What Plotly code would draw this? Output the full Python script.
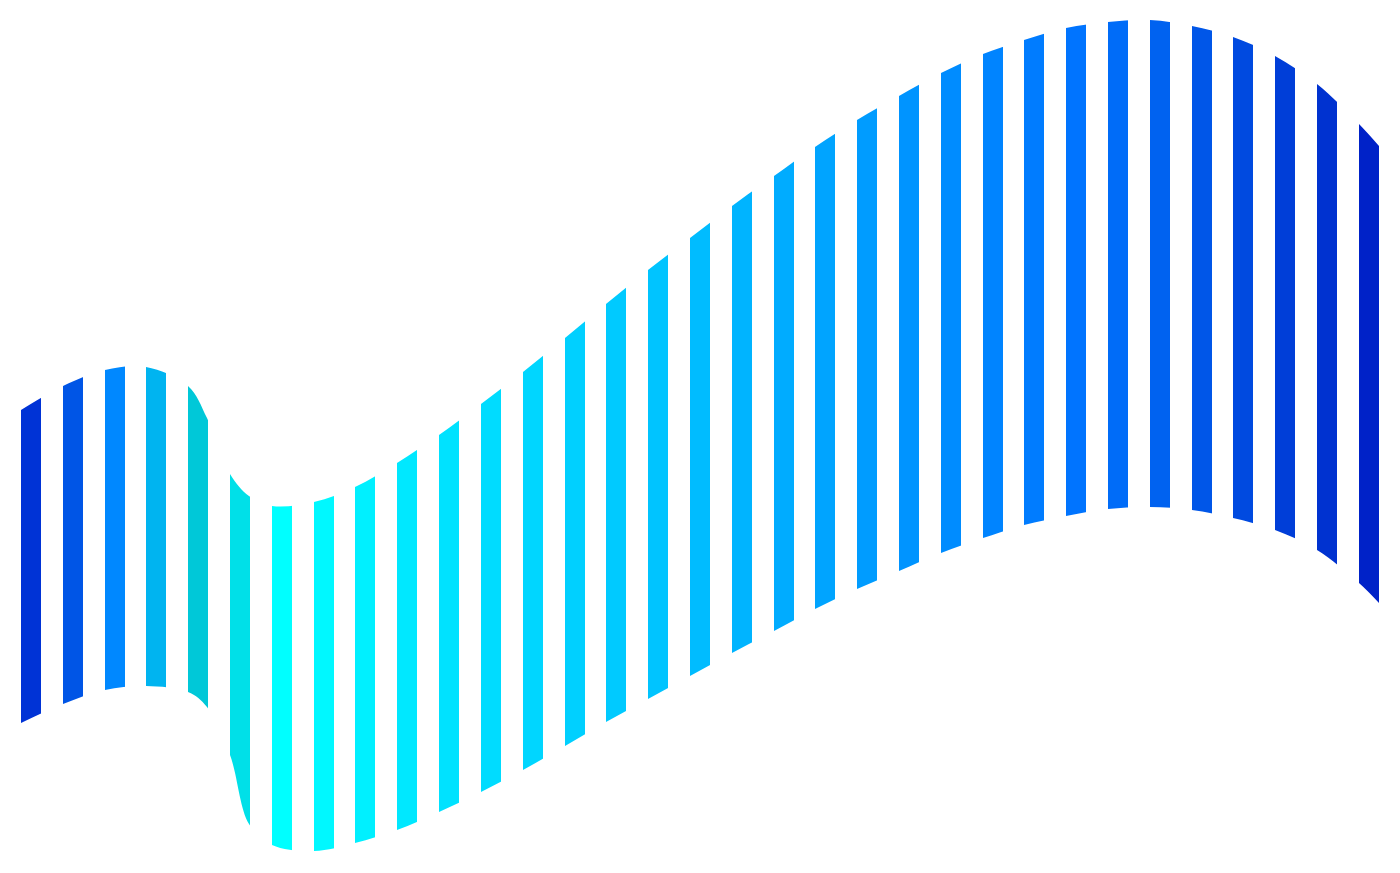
import plotly.graph_objects as go

x_pts = [21, 63, 105, 146, 188, 207, 230, 249, 272, 314, 355, 397, 439, 481, 523, 565, 606,
         648, 690, 732, 774, 815, 857, 899, 941, 983, 1024, 1066, 1108, 1150, 1192,
         1233, 1275, 1317, 1359, 1379]
upper_px = [410, 386, 370, 367, 386, 418, 474, 496, 506, 502, 487, 463, 435, 404, 372, 338, 304,
            270, 238, 206, 176, 147, 120, 96, 73, 54, 40, 28, 22, 20, 26,
            37, 56, 84, 124, 146]
lower_px = [723, 704, 690, 686, 692, 707, 755, 824, 845, 851, 843, 830, 812, 792, 770, 746, 722,
            699, 676, 653, 631, 609, 589, 571, 553, 538, 525, 516, 509, 507, 510,
            518, 530, 550, 583, 603]

stripe_starts = [21, 63, 105, 146, 188, 230, 272, 314, 355, 397, 439, 481, 523, 565, 606, 648,
                 690, 732, 774, 815, 857, 899, 941, 983, 1024, 1066, 1108, 1150, 1192, 1233,
                 1275, 1317, 1359]
stripe_colors = ["#0033d6", "#0055e6", "#0088ff", "#00b4f0", "#00c8d8", "#00e0e8", "#00ffff",
                 "#00f8ff", "#00f0ff", "#00e8ff", "#00e2ff", "#00dcff", "#00d6ff", "#00d0ff",
                 "#00caff", "#00c4ff", "#00bcff", "#00b4ff", "#00acff", "#00a4ff", "#009cff",
                 "#0094ff", "#008cff", "#0084ff", "#007cff", "#0074ff", "#006cf8", "#0062f0",
                 "#0056e8", "#004ae0", "#003ed8", "#0032d0", "#0022c8"]
stripe_width = 20

H = 873
x0, x1 = x_pts[0], x_pts[-1]
span = x1 - x0
scale = []
eps = 1e-4
for i, (s, c) in enumerate(zip(stripe_starts, stripe_colors)):
    a = (s - x0) / span
    b = min((s + stripe_width - x0) / span, 1.0)
    if i > 0:
        scale.append([a - eps, "#ffffff"])
    scale.append([a, c])
    scale.append([b, c])
    if b < 1.0:
        scale.append([b + eps, "#ffffff"])
if scale[-1][0] < 1.0:
    scale.append([1.0, "#ffffff"])

fig = go.Figure()
fig.add_trace(go.Scatter(x=x_pts, y=[H - v for v in upper_px], mode="lines",
                         line=dict(width=0, shape="spline"), showlegend=False))
fig.add_trace(go.Scatter(x=x_pts, y=[H - v for v in lower_px], mode="lines",
                         line=dict(width=0, shape="spline"), fill="tonexty",
                         fillgradient=dict(type="horizontal", colorscale=scale),
                         showlegend=False))
# page has an 8px body margin, so shift the ranges to compensate
fig.update_layout(width=1400, height=873, margin=dict(l=0, r=0, t=0, b=0),
                  paper_bgcolor="white", plot_bgcolor="white",
                  xaxis=dict(range=[8, 1408], visible=False),
                  yaxis=dict(range=[-8, 865], visible=False))
fig.write_html("out.html")
